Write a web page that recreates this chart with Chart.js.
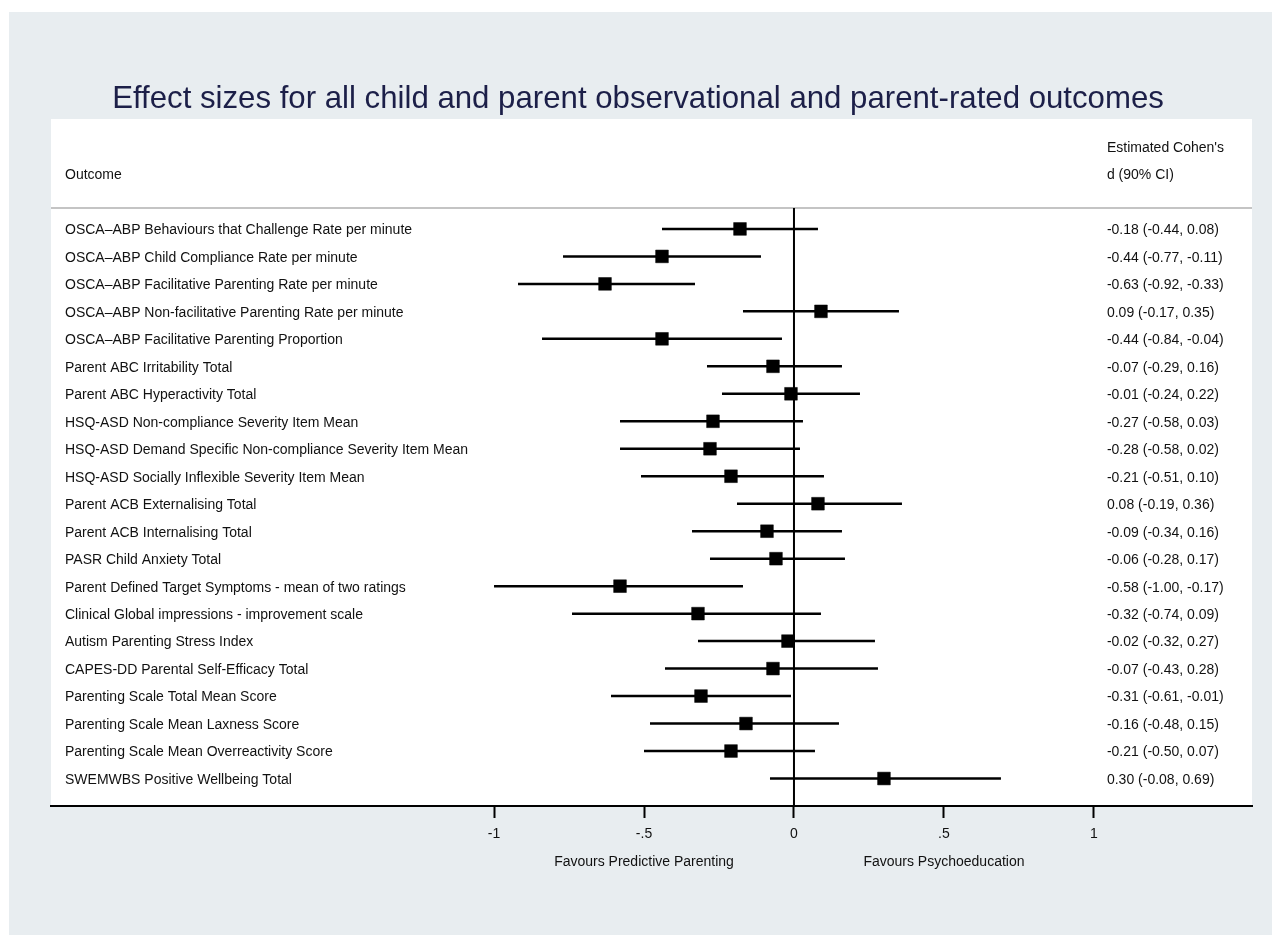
<!DOCTYPE html>
<html>
<head>
<meta charset="utf-8">
<title>Effect sizes forest plot</title>
<script src="https://cdn.jsdelivr.net/npm/chart.js@4/dist/chart.umd.min.js"></script>
<style>
  html, body { margin: 0; padding: 0; background: #ffffff; }
  canvas { display: block; }
</style>
</head>
<body>
<canvas id="forest" width="1272" height="935"></canvas>
<script>
// Outcomes, top to bottom
const outcomes = [
  'OSCA\u2013ABP Behaviours that Challenge Rate per minute',
  'OSCA\u2013ABP Child Compliance Rate per minute',
  'OSCA\u2013ABP Facilitative Parenting Rate per minute',
  'OSCA\u2013ABP Non-facilitative Parenting Rate per minute',
  'OSCA\u2013ABP Facilitative Parenting Proportion',
  'Parent ABC Irritability Total',
  'Parent ABC Hyperactivity Total',
  'HSQ-ASD Non-compliance Severity Item Mean',
  'HSQ-ASD Demand Specific Non-compliance Severity Item Mean',
  'HSQ-ASD Socially Inflexible Severity Item Mean',
  'Parent ACB Externalising Total',
  'Parent ACB Internalising Total',
  'PASR Child Anxiety Total',
  'Parent Defined Target Symptoms - mean of two ratings',
  'Clinical Global impressions - improvement scale',
  'Autism Parenting Stress Index',
  'CAPES-DD Parental Self-Efficacy Total',
  'Parenting Scale Total Mean Score',
  'Parenting Scale Mean Laxness Score',
  'Parenting Scale Mean Overreactivity Score',
  'SWEMWBS Positive Wellbeing Total'
];

// Estimated Cohen's d with 90% confidence limits
const estimates = [-0.18, -0.44, -0.63, 0.09, -0.44, -0.07, -0.01, -0.27, -0.28, -0.21, 0.08, -0.09, -0.06, -0.58, -0.32, -0.02, -0.07, -0.31, -0.16, -0.21, 0.30];
const lowerCI   = [-0.44, -0.77, -0.92, -0.17, -0.84, -0.29, -0.24, -0.58, -0.58, -0.51, -0.19, -0.34, -0.28, -1.00, -0.74, -0.32, -0.43, -0.61, -0.48, -0.50, -0.08];
const upperCI   = [0.08, -0.11, -0.33, 0.35, -0.04, 0.16, 0.22, 0.03, 0.02, 0.10, 0.36, 0.16, 0.17, -0.17, 0.09, 0.27, 0.28, -0.01, 0.15, 0.07, 0.69];

// Axis ticks and captions
const xTickValues = [-1, -0.5, 0, 0.5, 1];
const xTickLabels = ['-1', '-.5', '0', '.5', '1'];
const favourLabels = ['Favours Predictive Parenting', 'Favours Psychoeducation'];
const favourAt = [-0.5, 0.5];

const titleText = 'Effect sizes for all child and parent observational and parent-rated outcomes';
const leftHeader = 'Outcome';
const rightHeader = ["Estimated Cohen's", 'd (90% CI)'];

const FONT = "'Liberation Sans', Arial, sans-serif";
const TEXT_SIZE = 14;
const TEXT_NUDGE = 1.5; // optical centring of text on row lines

const fmt = v => v.toFixed(2);
const ciText = estimates.map((e, i) => `${fmt(e)} (${fmt(lowerCI[i])}, ${fmt(upperCI[i])})`);

// Row index used as y value; headers sit above row 0
const ROW_HEAD1 = -3, ROW_HEAD2 = -2, ROW_RULE = -0.76;

const datasets = [];
datasets.push({
  label: 'estimate',
  data: estimates.map((e, i) => ({ x: e, y: i })),
  pointStyle: 'rect',
  pointRadius: 9,
  pointHoverRadius: 9,
  pointBackgroundColor: '#000000',
  pointBorderColor: '#000000',
  pointBorderWidth: 0.5,
  showLine: false,
  order: 0
});
lowerCI.forEach((lo, i) => {
  datasets.push({
    label: 'ci' + i,
    data: [{ x: lo, y: i }, { x: upperCI[i], y: i }],
    showLine: true,
    borderColor: '#000000',
    borderWidth: 2.5,
    pointRadius: 0,
    order: 1
  });
});
datasets.push({
  label: 'null',
  data: [{ x: 0, y: ROW_RULE }, { x: 0, y: outcomes.length }],
  showLine: true,
  borderColor: '#000000',
  borderWidth: 2,
  pointRadius: 0,
  order: 2
});

const panelPlugin = {
  id: 'panel',
  beforeDraw(chart) {
    const { ctx, chartArea: a, width, height } = chart;
    ctx.save();
    ctx.fillStyle = '#ffffff';
    ctx.fillRect(0, 0, width, height);
    ctx.fillStyle = '#e8edf0';
    ctx.fillRect(9, 12, width - 9, height - 12);
    ctx.fillStyle = '#ffffff';
    ctx.fillRect(a.left, a.top, a.right - a.left, a.bottom - a.top);
    ctx.restore();
  },
  beforeDatasetsDraw(chart) {
    const { ctx, chartArea: a, scales: { y } } = chart;
    const ry = y.getPixelForValue(ROW_RULE);
    ctx.save();
    ctx.strokeStyle = '#c4c4c4';
    ctx.lineWidth = 2;
    ctx.beginPath();
    ctx.moveTo(a.left, ry);
    ctx.lineTo(a.right, ry);
    ctx.stroke();
    ctx.restore();
  },
  afterDraw(chart) {
    const { ctx, chartArea: a, scales: { x, y } } = chart;
    const leftX = a.left + 14;
    const rightX = x.getPixelForValue(1) + 13;
    ctx.save();
    // Title, centred over the figure
    ctx.font = `31.2px ${FONT}`;
    ctx.fillStyle = '#1c1f48';
    ctx.textAlign = 'center';
    ctx.textBaseline = 'alphabetic';
    ctx.fillText(titleText, 638, a.top - 11);

    ctx.font = `${TEXT_SIZE}px ${FONT}`;
    ctx.fillStyle = '#111111';
    ctx.textBaseline = 'middle';
    ctx.textAlign = 'left';
    const rowY = v => y.getPixelForValue(v) + TEXT_NUDGE;
    ctx.fillText(leftHeader, leftX, rowY(ROW_HEAD2));
    ctx.fillText(rightHeader[0], rightX, rowY(ROW_HEAD1));
    ctx.fillText(rightHeader[1], rightX, rowY(ROW_HEAD2));
    outcomes.forEach((name, i) => {
      ctx.fillText(name, leftX, rowY(i));
      ctx.fillText(ciText[i], rightX, rowY(i));
    });
    ctx.textAlign = 'center';
    favourLabels.forEach((t, i) => {
      ctx.fillText(t, x.getPixelForValue(favourAt[i]), a.bottom + 56);
    });
    ctx.restore();
  }
};

new Chart(document.getElementById('forest'), {
  type: 'scatter',
  data: { datasets },
  plugins: [panelPlugin],
  options: {
    responsive: false,
    animation: false,
    devicePixelRatio: 1,
    layout: { padding: { left: 51, right: 20, top: 119, bottom: 89 } },
    plugins: {
      legend: { display: false },
      tooltip: { enabled: false },
      title: { display: false }
    },
    scales: {
      x: {
        type: 'linear',
        position: 'bottom',
        min: -2.477,
        max: 1.527,
        afterBuildTicks: s => { s.ticks = xTickValues.map(v => ({ value: v })); },
        afterFit: s => { s.height = 40; },
        ticks: {
          color: '#111111',
          font: { family: FONT, size: TEXT_SIZE },
          padding: 8,
          maxRotation: 0,
          autoSkip: false,
          callback: (v, i) => xTickLabels[i]
        },
        grid: {
          drawOnChartArea: false,
          drawTicks: true,
          tickLength: 12,
          tickWidth: 2,
          tickColor: '#000000'
        },
        border: { display: true, color: '#000000', width: 2 }
      },
      y: {
        type: 'linear',
        display: false,
        reverse: true,
        min: -4,
        max: outcomes.length
      }
    }
  }
});
</script>
</body>
</html>
